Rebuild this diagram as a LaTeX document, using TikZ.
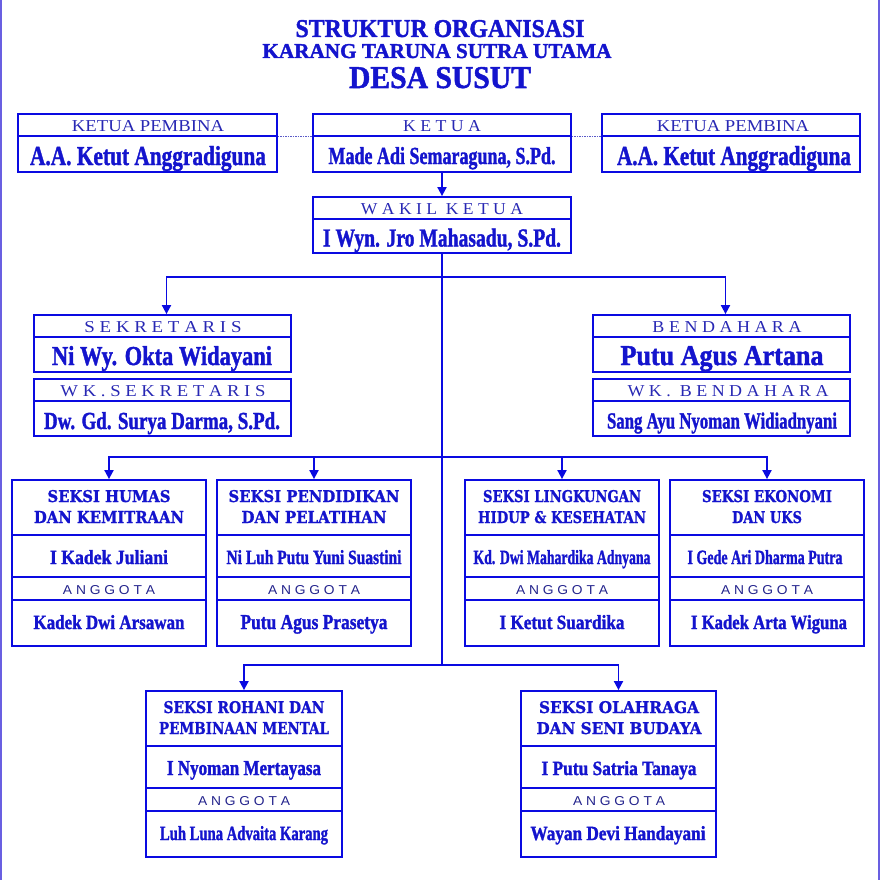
\documentclass[tikz,border=0pt]{standalone}
\usepackage{fontspec}
\setmainfont{Liberation Serif}
\newfontfamily\nmfont{Liberation Serif}[BoldFeatures={FakeBold=1.6}]
\newfontfamily\widefont{DejaVu Serif}[BoldFeatures={FakeBold=1.2}]
\newfontfamily\sansfont{Liberation Sans}
\usetikzlibrary{arrows.meta}
\definecolor{tc}{RGB}{20,20,205}
\definecolor{lblc}{RGB}{40,40,180}
\definecolor{angc}{RGB}{35,35,140}
\definecolor{lc}{RGB}{10,10,225}
\definecolor{dc}{RGB}{90,90,200}
\definecolor{edgec}{RGB}{105,95,225}
\tikzset{
  box/.style={draw=lc, line width=1.8pt, inner sep=0pt},
  ln/.style={draw=lc, line width=1.8pt},
  dv/.style={draw=lc, line width=1.4pt},
  arr/.style={ln, -{Triangle[width=9pt,length=9pt]}},
  dotl/.style={draw=dc, line width=0.8pt, dash pattern=on 1.5pt off 1pt},
  txt/.style={inner sep=0pt, anchor=base, text=tc},
  lbl/.style={txt, text=lblc},
  ang/.style={txt, text=angc},
  edgeline/.style={draw=edgec, line width=2pt},
}
\newcommand\tx[7][txt]{\node[#1] (#2) at (#3,#4) {\resizebox{#5pt}{#6pt}{#7}};}
\newcommand\divl[2]{\draw[dv] ([yshift=-#2pt]#1.north west) -- ([yshift=-#2pt]#1.north east);}
\newcommand\nm{\nmfont\bfseries}
\newcommand\st{\widefont\bfseries}
\begin{document}
\begin{tikzpicture}[x=1pt,y=-1pt]
\useasboundingbox (0,0) rectangle (880,880);
\draw[edgeline] (1,0) -- (1,880);
\draw[edgeline] (879,0) -- (879,880);

% title
\tx{ti1}{440}{37}{289}{17}{\nm STRUKTUR ORGANISASI}
\tx{ti2}{437}{58}{349}{14}{\nm KARANG TARUNA SUTRA UTAMA}
\tx{ti3}{440}{88}{182}{21}{\nm DESA SUSUT}

% top boxes
\node[box, minimum width=259pt, minimum height=58pt] (kp1) at (147.5,143) {};
\node[box, minimum width=258pt, minimum height=58pt] (ketua) at (442,143) {};
\node[box, minimum width=258pt, minimum height=58pt] (kp2) at (731,143) {};
\node[box, minimum width=258pt, minimum height=56pt] (wakil) at (442,225) {};
\divl{kp1}{23}\divl{ketua}{23}\divl{kp2}{23}\divl{wakil}{23}
\tx[lbl]{l1}{148}{131}{152}{11}{KETUA PEMBINA}
\tx[lbl]{l2}{442}{131}{78}{11}{K E T U A}
\tx[lbl]{l3}{733}{131}{152}{11}{KETUA PEMBINA}
\tx{n1}{148}{165}{236}{19}{\nm A.A. Ketut Anggradiguna}
\tx{n2}{442}{164}{227}{17}{\nm Made Adi Semaraguna, S.Pd.}
\tx{n3}{734}{165}{234}{19}{\nm A.A. Ketut Anggradiguna}
\tx[lbl]{l4}{442}{214}{162}{11}{W A K I L \ K E T U A}
\tx{n4}{442}{246.5}{238}{18}{\nm I Wyn. Jro Mahasadu, S.Pd.}

% sekretaris / bendahara
\node[box, minimum width=257pt, minimum height=57pt] (sek) at (162.5,343.5) {};
\node[box, minimum width=257pt, minimum height=57pt] (wksek) at (162.5,407.5) {};
\node[box, minimum width=257pt, minimum height=57pt] (ben) at (721.5,343.5) {};
\node[box, minimum width=257pt, minimum height=57pt] (wkben) at (721.5,407.5) {};
\divl{sek}{23}\divl{wksek}{23}\divl{ben}{23}\divl{wkben}{23}
\tx[lbl]{l5}{163}{332}{157}{11}{S E K R E T A R I S}
\tx{n5}{162}{365}{220}{19}{\nm Ni Wy. Okta Widayani}
\tx[lbl]{l6}{163}{396}{205}{11}{W K . S E K R E T A R I S}
\tx{n6}{162}{429}{236}{17}{\nm Dw. Gd. Surya Darma, S.Pd.}
\tx[lbl]{l7}{727}{332}{149}{11}{B E N D A H A R A}
\tx{n7}{722}{365}{203}{19}{\nm Putu Agus Artana}
\tx[lbl]{l8}{728}{396}{201}{11}{W K . \ B E N D A H A R A}
\tx{n8}{722}{428.5}{230}{16}{\nm Sang Ayu Nyoman Widiadnyani}

% seksi row 1
\node[box, minimum width=194pt, minimum height=166pt] (humas) at (109,563) {};
\node[box, minimum width=194pt, minimum height=166pt] (pend) at (314,563) {};
\node[box, minimum width=194pt, minimum height=166pt] (ling) at (562,563) {};
\node[box, minimum width=194pt, minimum height=166pt] (eko) at (767,563) {};
\foreach \b in {humas,pend,ling,eko}{\divl{\b}{56}\divl{\b}{98}\divl{\b}{121}}
\tx{s1a}{109}{502}{123}{12}{\st SEKSI HUMAS}
\tx{s1b}{109}{523}{150}{12}{\st DAN KEMITRAAN}
\tx{s1n}{109}{564}{118}{14}{\nm I Kadek Juliani}
\tx[ang]{s1g}{109}{594}{92}{9}{\sansfont A N G G O T A}
\tx{s1m}{109}{629}{151}{14}{\nm Kadek Dwi Arsawan}
\tx{s2a}{314}{502}{171}{12}{\st SEKSI PENDIDIKAN}
\tx{s2b}{314}{523}{145}{12}{\st DAN PELATIHAN}
\tx{s2n}{314}{564}{175}{14}{\nm Ni Luh Putu Yuni Suastini}
\tx[ang]{s2g}{314}{594}{92}{9}{\sansfont A N G G O T A}
\tx{s2m}{314}{629}{147}{14}{\nm Putu Agus Prasetya}
\tx{s3a}{562}{502}{158}{12}{\st SEKSI LINGKUNGAN}
\tx{s3b}{562}{523}{168}{12}{\st HIDUP \& KESEHATAN}
\tx{s3n}{562}{564}{177}{14}{\nm Kd. Dwi Mahardika Adnyana}
\tx[ang]{s3g}{562}{594}{92}{9}{\sansfont A N G G O T A}
\tx{s3m}{562}{629}{125}{14}{\nm I Ketut Suardika}
\tx{s4a}{767}{502}{130}{12}{\st SEKSI EKONOMI}
\tx{s4b}{767}{523}{70}{12}{\st DAN UKS}
\tx{s4n}{765}{564}{155}{14}{\nm I Gede Ari Dharma Putra}
\tx[ang]{s4g}{767}{594}{92}{9}{\sansfont A N G G O T A}
\tx{s4m}{769}{629}{156}{14}{\nm I Kadek Arta Wiguna}

% seksi row 2
\node[box, minimum width=196pt, minimum height=166pt] (rohani) at (244,774) {};
\node[box, minimum width=195pt, minimum height=166pt] (olah) at (618.5,774) {};
\foreach \b in {rohani,olah}{\divl{\b}{56}\divl{\b}{98}\divl{\b}{121}}
\tx{s5a}{244}{713}{161}{12}{\st SEKSI ROHANI DAN}
\tx{s5b}{244}{734}{170}{12}{\st PEMBINAAN MENTAL}
\tx{s5n}{244}{775}{154}{14}{\nm I Nyoman Mertayasa}
\tx[ang]{s5g}{244}{805}{92}{9}{\sansfont A N G G O T A}
\tx{s5m}{244}{840}{168}{14}{\nm Luh Luna Advaita Karang}
\tx{s6a}{619}{713}{160}{12}{\st SEKSI OLAHRAGA}
\tx{s6b}{619}{734}{165}{12}{\st DAN SENI BUDAYA}
\tx{s6n}{619}{775}{155}{14}{\nm I Putu Satria Tanaya}
\tx[ang]{s6g}{619}{805}{92}{9}{\sansfont A N G G O T A}
\tx{s6m}{618}{840}{175}{14}{\nm Wayan Devi Handayani}

% connectors
\draw[dotl] ([yshift=-23pt]kp1.north east) -- ([yshift=-23pt]ketua.north west);
\draw[dotl] ([yshift=-23pt]ketua.north east) -- ([yshift=-23pt]kp2.north west);
\draw[arr] (ketua.south) -- (wakil.north);
\coordinate (j1) at (442,277);
\coordinate (j2) at (442,457);
\coordinate (j3) at (442,665);
\draw[ln] (wakil.south) -- (j3);
\draw[arr] (j1) -| ([xshift=4pt]sek.north);
\draw[arr] (j1) -| ([xshift=4pt]ben.north);
\draw[arr] (j2) -| (humas.north);
\draw[arr] (j2) -| (pend.north);
\draw[arr] (j2) -| (ling.north);
\draw[arr] (j2) -| (eko.north);
\draw[arr] (j3) -| (rohani.north);
\draw[arr] (j3) -| (olah.north);
\end{tikzpicture}
\end{document}
